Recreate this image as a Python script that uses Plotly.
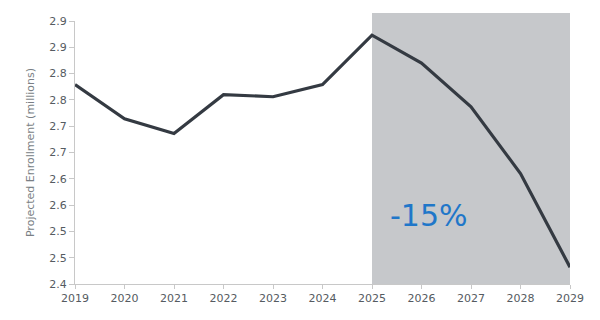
import plotly.graph_objects as go

years = [2019, 2020, 2021, 2022, 2023, 2024, 2025, 2026, 2027, 2028, 2029]
enrollment = [2.779, 2.714, 2.686, 2.760, 2.756, 2.779, 2.873, 2.820, 2.737, 2.610, 2.432]
ytick_vals = [2.40, 2.45, 2.50, 2.55, 2.60, 2.65, 2.70, 2.75, 2.80, 2.85, 2.90]
ytick_text = ["2.4", "2.5", "2.5", "2.6", "2.6", "2.7", "2.7", "2.8", "2.8", "2.9", "2.9"]
proj_start, proj_end = 2025, 2029
change_label = "-15%"

fig = go.Figure()
fig.add_shape(type="rect", xref="x", yref="paper", x0=proj_start, x1=proj_end,
              y0=0, y1=1.03, fillcolor="#c6c8cb", line_width=0, layer="below")
fig.add_trace(go.Scatter(x=years, y=enrollment, mode="lines",
                         line=dict(color="#343a42", width=3.2), hoverinfo="skip"))
fig.add_annotation(x=2026.15, y=2.53, text=change_label, showarrow=False,
                   font=dict(family="DejaVu Sans", size=30, color="#1f77c9"))

fig.update_layout(
    width=600, height=320,
    margin=dict(l=75, r=30, t=21, b=36),
    paper_bgcolor="white", plot_bgcolor="white",
    showlegend=False,
    font=dict(family="DejaVu Sans", size=11, color="#555b61"),
    xaxis=dict(range=[2019, 2029], tickvals=years, showgrid=False, zeroline=False,
               showline=True, linecolor="#c8c8c8", linewidth=1,
               ticks="outside", ticklen=4, tickcolor="#c8c8c8"),
    yaxis=dict(range=[2.4, 2.9], tickvals=ytick_vals, ticktext=ytick_text,
               showgrid=False, zeroline=False, showline=True, linecolor="#c8c8c8",
               linewidth=1, ticks="outside", ticklen=5, tickcolor="#c8c8c8",
               title=dict(text="Projected Enrollment (millions)", standoff=12,
                          font=dict(size=11, color="#7a7f85"))),
)
fig.write_html("out.html")
